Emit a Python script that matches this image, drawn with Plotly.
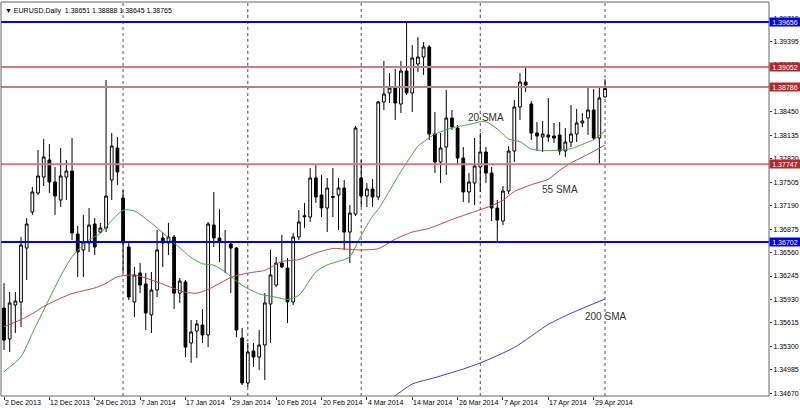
import plotly.graph_objects as go

# ---------------- data ----------------
dec_days = [2, 3, 4, 5, 6, 9, 10, 11, 12, 13, 16, 17, 18, 19, 20, 23, 24, 26, 27, 30, 31]
jan_days = [2, 3, 6, 7, 8, 9, 10, 13, 14, 15, 16, 17, 20, 21, 22, 23, 24, 27, 28, 29, 30, 31]
feb_days = [3, 4, 5, 6, 7, 10, 11, 12, 13, 14, 17, 18, 19, 20, 21, 24, 25, 26, 27, 28]
mar_days = [3, 4, 5, 6, 7, 10, 11, 12, 13, 14, 17, 18, 19, 20, 21, 24, 25, 26, 27, 28, 31]
apr_days = [1, 2, 3, 4, 7, 8, 9, 10, 11, 14, 15, 16, 17, 18, 21, 22, 23, 24, 25, 28, 29, 30]
may_days = [1]

dates = ([f"{d} Dec 2013" for d in dec_days] + [f"{d} Jan 2014" for d in jan_days] +
         [f"{d} Feb 2014" for d in feb_days] + [f"{d} Mar 2014" for d in mar_days] +
         [f"{d} Apr 2014" for d in apr_days] + [f"{d} May 2014" for d in may_days])

opens = [1.35815, 1.35399, 1.35856, 1.35896, 1.36621, 1.37105, 1.37360, 1.37575, 1.37804, 1.37508,
         1.37266, 1.37575, 1.37656, 1.36809, 1.36595, 1.36689, 1.36944, 1.36836, 1.36890, 1.37535,
         1.37965, 1.37293, 1.36635, 1.35896, 1.36286, 1.36138, 1.35722, 1.36057, 1.36756, 1.36689,
         1.36769, 1.36016, 1.36165, 1.35345, 1.35506, 1.35587, 1.35453, 1.36930, 1.36756, 1.36709,
         1.36675, 1.36621, 1.35412, 1.34808, 1.35238, 1.35157, 1.35318, 1.35869, 1.36124, 1.36420,
         1.36353, 1.35896, 1.36769, 1.37055, 1.37038, 1.37562, 1.37333, 1.37159, 1.37313, 1.37333,
         1.37427, 1.36836, 1.37078, 1.37562, 1.37320, 1.37414, 1.37307, 1.38583, 1.38704, 1.38771,
         1.38556, 1.38999, 1.38704, 1.39093, 1.39187, 1.39322, 1.38153, 1.37777, 1.37978, 1.38368,
         1.38233, 1.37830, 1.37374, 1.37494, 1.37710, 1.37911, 1.37629, 1.37159, 1.36984, 1.37387,
         1.37924, 1.38516, 1.38851, 1.38556, 1.38166, 1.38113, 1.38140, 1.38126, 1.38140, 1.37925,
         1.38045, 1.38153, 1.38301, 1.38368, 1.38475, 1.38099, 1.38651]

highs = [1.36151, 1.36030, 1.36030, 1.36769, 1.37024, 1.37441, 1.37938, 1.38086, 1.38019, 1.37710,
         1.37965, 1.37804, 1.38099, 1.36917, 1.37065, 1.37159, 1.37024, 1.36957, 1.38878, 1.38166,
         1.38113, 1.37400, 1.36689, 1.36366, 1.36420, 1.36286, 1.36299, 1.36863, 1.36836, 1.36957,
         1.36796, 1.36219, 1.36192, 1.35654, 1.35654, 1.35802, 1.36971, 1.37374, 1.37145, 1.36863,
         1.36702, 1.36635, 1.35547, 1.35345, 1.35345, 1.35520, 1.36016, 1.36595, 1.36500, 1.36796,
         1.36487, 1.36823, 1.37132, 1.37226, 1.37696, 1.37737, 1.37602, 1.37562, 1.37696, 1.37562,
         1.37535, 1.37199, 1.38260, 1.37804, 1.37494, 1.37548, 1.38596, 1.39134, 1.38972, 1.39026,
         1.39134, 1.39648, 1.39348, 1.39456, 1.39389, 1.39348, 1.38448, 1.38166, 1.38744, 1.38475,
         1.38274, 1.37978, 1.37629, 1.38099, 1.38166, 1.37978, 1.37710, 1.37266, 1.37454, 1.37992,
         1.38610, 1.38972, 1.39053, 1.38596, 1.38314, 1.38328, 1.38636, 1.38301, 1.38314, 1.38233,
         1.38542, 1.38489, 1.38435, 1.38771, 1.38757, 1.38771, 1.38888]

lows = [1.35251, 1.35224, 1.35480, 1.35560, 1.36192, 1.37065, 1.37333, 1.37454, 1.37360, 1.37065,
        1.37172, 1.37266, 1.36729, 1.36232, 1.36232, 1.36568, 1.36527, 1.36823, 1.36836, 1.37266,
        1.37468, 1.36286, 1.35923, 1.35695, 1.36016, 1.35520, 1.35480, 1.35963, 1.36366, 1.36527,
        1.35802, 1.35883, 1.35157, 1.35077, 1.35144, 1.35345, 1.35291, 1.36635, 1.36433, 1.36286,
        1.36016, 1.35426, 1.34781, 1.34754, 1.35023, 1.34983, 1.34848, 1.35345, 1.36098, 1.36353,
        1.35614, 1.35856, 1.36729, 1.36890, 1.36971, 1.37226, 1.37038, 1.36836, 1.37038, 1.36863,
        1.36595, 1.36420, 1.37051, 1.37172, 1.37172, 1.37172, 1.37266, 1.38475, 1.38569, 1.38341,
        1.38435, 1.38677, 1.38448, 1.38986, 1.38946, 1.38072, 1.37629, 1.37494, 1.37602, 1.38207,
        1.37737, 1.37239, 1.37226, 1.37199, 1.37374, 1.37494, 1.36984, 1.36689, 1.36930, 1.37347,
        1.37777, 1.38341, 1.38717, 1.38072, 1.37925, 1.37911, 1.38045, 1.38032, 1.37871, 1.37844,
        1.37978, 1.38045, 1.38247, 1.38140, 1.38072, 1.37737, 1.38645]

closes = [1.35385, 1.35883, 1.35909, 1.36662, 1.36944, 1.37374, 1.37589, 1.37844, 1.37508, 1.37320,
          1.37589, 1.37656, 1.36823, 1.36568, 1.36702, 1.36930, 1.36635, 1.36890, 1.37320, 1.37992,
          1.37642, 1.36689, 1.35963, 1.36259, 1.36124, 1.35748, 1.36057, 1.36595, 1.36689, 1.36769,
          1.36016, 1.36178, 1.35291, 1.35493, 1.35601, 1.35453, 1.36944, 1.36756, 1.36702, 1.36695,
          1.36621, 1.35520, 1.34808, 1.35224, 1.35157, 1.35318, 1.35883, 1.36259, 1.36420, 1.36366,
          1.35896, 1.36769, 1.36971, 1.37042, 1.37562, 1.37307, 1.37159, 1.37427, 1.37304, 1.37427,
          1.36836, 1.37091, 1.38233, 1.37320, 1.37414, 1.37307, 1.38583, 1.38690, 1.38771, 1.38569,
          1.38999, 1.38704, 1.39174, 1.39187, 1.39322, 1.38153, 1.37777, 1.37965, 1.38368, 1.38247,
          1.37830, 1.37374, 1.37508, 1.37723, 1.37911, 1.37629, 1.37159, 1.36998, 1.37387, 1.37924,
          1.38516, 1.38851, 1.38811, 1.38166, 1.38126, 1.38153, 1.38113, 1.38099, 1.37925, 1.38045,
          1.38153, 1.38301, 1.38328, 1.38475, 1.38099, 1.38637, 1.38765]

# moving averages (bar index, value)
sma20_idx = [0, 3, 5, 7, 10, 12, 15, 17, 19, 21, 23, 26, 28, 30, 33, 35, 37, 39, 42, 45, 48, 50,
             52, 55, 57, 60, 61, 63, 65, 66, 68, 70, 72, 73, 76, 79, 82, 84, 85, 87, 89, 91, 93,
             96, 98, 100, 103, 104, 106]
sma20_val = [1.34960, 1.35161, 1.35476, 1.35788, 1.36245, 1.36505, 1.36730, 1.36819, 1.36990,
             1.37130, 1.37120, 1.36955, 1.36825, 1.36690, 1.36495, 1.36410, 1.36390, 1.36300,
             1.36120, 1.36005, 1.35960, 1.35930, 1.35985, 1.36300, 1.36395, 1.36465, 1.36505,
             1.36790, 1.37050, 1.37140, 1.37390, 1.37650, 1.37880, 1.37990, 1.38150, 1.38235,
             1.38280, 1.38318, 1.38318, 1.38220, 1.38085, 1.38049, 1.37950, 1.37929, 1.37938,
             1.37955, 1.38045, 1.38075, 1.38197]

sma55_idx = [0, 3, 5, 7, 10, 12, 16, 18, 20, 23, 25, 27, 30, 32, 34, 36, 38, 40, 43, 46, 49, 52,
             55, 58, 61, 63, 66, 69, 72, 75, 79, 83, 86, 88, 90, 93, 96, 98, 100, 103, 106]
sma55_val = [1.35564, 1.35660, 1.35740, 1.35836, 1.35948, 1.36010, 1.36085, 1.36147, 1.36235,
             1.36259, 1.36218, 1.36165, 1.36078, 1.36025, 1.36015, 1.36065, 1.36145, 1.36225,
             1.36285, 1.36322, 1.36440, 1.36465, 1.36555, 1.36615, 1.36602, 1.36595, 1.36612,
             1.36740, 1.36835, 1.36885, 1.37005, 1.37110, 1.37190, 1.37262, 1.37380, 1.37472,
             1.37545, 1.37665, 1.37765, 1.37880, 1.38005]

sma200_idx = [68, 69, 72, 76, 81, 84, 90, 96, 100, 106]
sma200_val = [1.34610, 1.34640, 1.34794, 1.34880, 1.34996, 1.35077, 1.35285, 1.35595, 1.35745, 1.35936]

tick_labels = ["2 Dec 2013", "12 Dec 2013", "24 Dec 2013", "7 Jan 2014", "17 Jan 2014",
               "29 Jan 2014", "10 Feb 2014", "20 Feb 2014", "4 Mar 2014", "14 Mar 2014",
               "26 Mar 2014", "7 Apr 2014", "17 Apr 2014", "29 Apr 2014"]

price_ticks = [1.34670, 1.34985, 1.35300, 1.35615, 1.35930, 1.36245, 1.36560, 1.36875, 1.37190,
               1.37505, 1.37820, 1.38135, 1.38450, 1.38765, 1.39080, 1.39395, 1.39710]

blue_levels = [1.39656, 1.36702]
red_levels = [1.39052, 1.38786, 1.37747]

title_text = "EURUSD,Daily  1.38651 1.38888 1.38645 1.38765"

# ---------------- figure ----------------
xs = list(range(len(dates)))
tick_idx = [dates.index(t) for t in tick_labels]
month_starts = [i for i in range(1, len(dates)) if dates[i].split()[1] != dates[i - 1].split()[1]]

FONT = "Liberation Sans, Arial, DejaVu Sans"

fig = go.Figure()
fig.add_trace(go.Candlestick(
    x=xs, open=opens, high=highs, low=lows, close=closes,
    increasing=dict(line=dict(color="black", width=1), fillcolor="white"),
    decreasing=dict(line=dict(color="black", width=1), fillcolor="black"),
    whiskerwidth=0, showlegend=False, hoverinfo="skip"))

fig.add_trace(go.Scatter(x=sma20_idx, y=sma20_val, mode="lines",
                         line=dict(color="#3FA83F", width=1, shape="spline", smoothing=0.6),
                         showlegend=False, hoverinfo="skip"))
fig.add_trace(go.Scatter(x=sma55_idx, y=sma55_val, mode="lines",
                         line=dict(color="#C04848", width=1, shape="spline", smoothing=0.6),
                         showlegend=False, hoverinfo="skip"))
fig.add_trace(go.Scatter(x=sma200_idx, y=sma200_val, mode="lines",
                         line=dict(color="#3C3CFF", width=1, shape="spline", smoothing=0.6),
                         showlegend=False, hoverinfo="skip"))

shapes = []
for m in month_starts:
    shapes.append(dict(type="line", xref="x", yref="paper", x0=m, x1=m, y0=0, y1=1,
                       line=dict(color="#555555", width=1, dash="dot"), layer="below"))
for lv in red_levels:
    shapes.append(dict(type="line", xref="paper", yref="y", x0=0, x1=1, y0=lv, y1=lv,
                       line=dict(color="#CD7C7C", width=2), layer="above"))
for lv in blue_levels:
    shapes.append(dict(type="line", xref="paper", yref="y", x0=0, x1=1, y0=lv, y1=lv,
                       line=dict(color="#0000FF", width=2), layer="above"))
shapes.append(dict(type="rect", xref="paper", yref="paper", x0=0, x1=1, y0=0, y1=1,
                   line=dict(color="#666666", width=1), layer="above"))

annotations = []
for i, lab in zip(tick_idx, tick_labels):
    annotations.append(dict(x=i, y=0, xref="x", yref="paper", text=lab, showarrow=False,
                            xanchor="left", yanchor="top", yshift=-1, xshift=-1,
                            font=dict(family=FONT, size=7, color="black")))
for lv in blue_levels:
    annotations.append(dict(x=1, y=lv, xref="paper", yref="y", text=f"{lv:.5f}", showarrow=False,
                            xanchor="left", yanchor="middle", bgcolor="#0000FF", borderpad=0,
                            width=30, height=8, font=dict(family=FONT, size=7, color="white")))
for lv in red_levels:
    annotations.append(dict(x=1, y=lv, xref="paper", yref="y", text=f"{lv:.5f}", showarrow=False,
                            xanchor="left", yanchor="middle", bgcolor="#B22B2B", borderpad=0,
                            width=30, height=8, font=dict(family=FONT, size=7, color="white")))
annotations.append(dict(x=0, y=1, xref="paper", yref="paper", text="▼ " + title_text,
                        showarrow=False, xanchor="left", yanchor="top", xshift=2, yshift=-3,
                        font=dict(family=FONT, size=7, color="black")))
annotations.append(dict(x=85, y=1.38374, xref="x", yref="y", text="20 SMA", showarrow=False,
                        font=dict(family=FONT, size=10, color="#333333")))
annotations.append(dict(x=98, y=1.37414, xref="x", yref="y", text="55 SMA", showarrow=False,
                        font=dict(family=FONT, size=10, color="#333333")))
annotations.append(dict(x=106, y=1.35708, xref="x", yref="y", text="200 SMA", showarrow=False,
                        font=dict(family=FONT, size=10, color="#333333")))

fig.update_layout(
    width=800, height=410,
    margin=dict(l=1, r=31, t=2, b=14, autoexpand=False),
    paper_bgcolor="white", plot_bgcolor="white",
    showlegend=False,
    shapes=shapes, annotations=annotations,
    xaxis=dict(range=[-0.53, 134.92], tickvals=tick_idx, showticklabels=False,
               ticks="outside", ticklen=3, tickcolor="#333333", showgrid=False,
               zeroline=False, showline=False, rangeslider=dict(visible=False)),
    yaxis=dict(side="right", range=[1.346333, 1.399263], tickvals=price_ticks,
               ticktext=[f"{v:.5f}" for v in price_ticks], ticks="outside", ticklen=2,
               tickcolor="#333333", tickfont=dict(family=FONT, size=7, color="black"),
               showgrid=False, zeroline=False, showline=False, automargin=False),
)

fig.write_html("out.html", config={"displayModeBar": False},
               post_script="document.body.style.margin='0';document.body.style.overflow='hidden';")
